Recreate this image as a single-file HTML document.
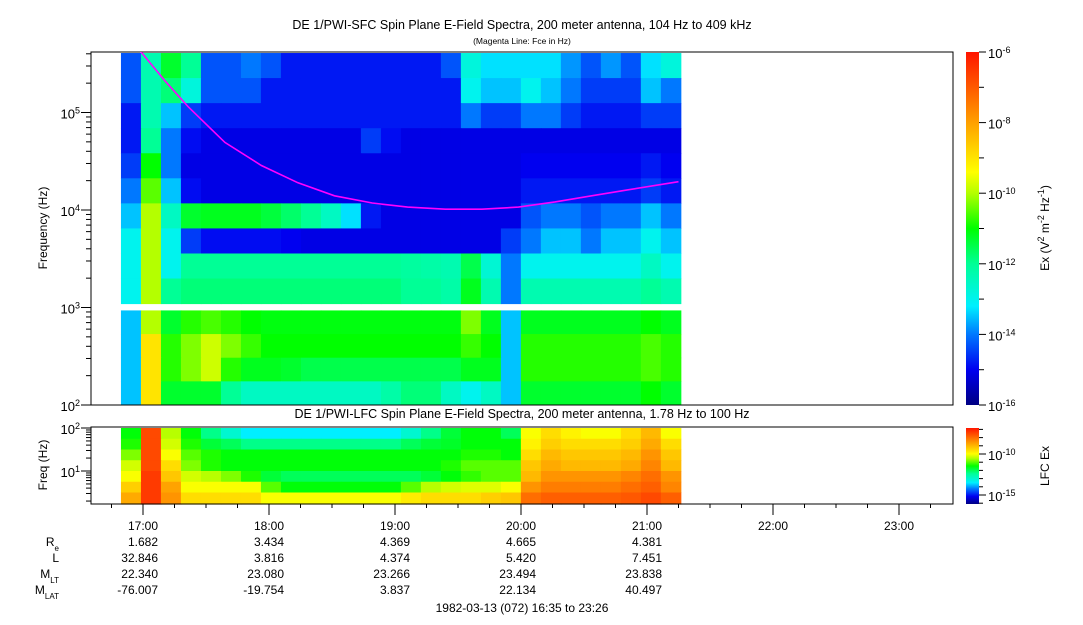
<!DOCTYPE html>
<html><head><meta charset="utf-8">
<style>
html,body{margin:0;padding:0;background:#fff;}
body{width:1083px;height:620px;overflow:hidden;font-family:"Liberation Sans",sans-serif;}
svg text{font-family:"Liberation Sans",sans-serif;fill:#000;}
</style></head>
<body>
<svg id="chart" width="1083" height="620" viewBox="0 0 1083 620" xmlns="http://www.w3.org/2000/svg">
<defs>
<linearGradient id="jet" x1="0" y1="1" x2="0" y2="0">
<stop offset="0" stop-color="rgb(0,0,130)"/><stop offset="0.1" stop-color="rgb(0,0,240)"/>
<stop offset="0.2" stop-color="rgb(0,120,255)"/><stop offset="0.28" stop-color="rgb(0,240,255)"/>
<stop offset="0.4" stop-color="rgb(0,255,150)"/><stop offset="0.5" stop-color="rgb(0,255,0)"/>
<stop offset="0.6" stop-color="rgb(180,255,0)"/><stop offset="0.66" stop-color="rgb(255,255,0)"/>
<stop offset="0.8" stop-color="rgb(255,160,0)"/><stop offset="1" stop-color="rgb(255,20,0)"/>
</linearGradient>
<clipPath id="clipTop"><rect x="91" y="52" width="862" height="353"/></clipPath>
</defs>
<text x="522" y="29" font-size="12.5" text-anchor="middle">DE 1/PWI-SFC  Spin Plane E-Field Spectra, 200 meter antenna, 104 Hz to 409 kHz</text>
<text x="522" y="44" font-size="8.5" text-anchor="middle">(Magenta Line: Fce in Hz)</text>
<text x="522" y="418" font-size="12.5" text-anchor="middle">DE 1/PWI-LFC  Spin Plane E-Field Spectra, 200 meter antenna, 1.78 Hz to 100 Hz</text>
<g id="sfc"></g>
<g id="lfc"></g>
<g id="axes"></g>
<rect x="91" y="52" width="862" height="353" fill="none" stroke="#000" stroke-width="1"/>
<rect x="91" y="427" width="862" height="77" fill="none" stroke="#000" stroke-width="1"/>
<rect x="966" y="52" width="13" height="353" fill="url(#jet)"/>
<rect x="966" y="428" width="13" height="76" fill="url(#jet)"/>
<text transform="translate(47,228) rotate(-90)" font-size="12" text-anchor="middle">Frequency (Hz)</text>
<text transform="translate(47,465) rotate(-90)" font-size="12" text-anchor="middle">Freq (Hz)</text>
<text transform="translate(1049,228) rotate(-90)" font-size="12" text-anchor="middle">Ex (V<tspan baseline-shift="super" font-size="9">2</tspan> m<tspan baseline-shift="super" font-size="9">-2</tspan> Hz<tspan baseline-shift="super" font-size="9">-1</tspan>)</text>
<text transform="translate(1049,466) rotate(-90)" font-size="12" text-anchor="middle">LFC Ex</text>
<text x="522" y="612" font-size="12" text-anchor="middle">1982-03-13 (072) 16:35 to 23:26</text>
</svg>
<script>
// ---- data ----
const colStart = 16.825, colStep = 0.1587; // hours, time categories
const sfcRowEdges = [5.61,5.353,5.096,4.839,4.582,4.325,4.068,3.811,3.554,3.297,3.04, 2.97,2.7275,2.485,2.2425,2.0];
const sfcRows = [
[-14.3,-12.3,-11.3,-12,-14.3,-14.3,-14,-14.3,-14.8,-14.8,-14.8,-14.8,-14.8,-14.8,-14.8,-14.8,-14.3,-12.8,-13.3,-13.3,-13.3,-13.3,-13.8,-14.3,-13.8,-14.3,-13.3,-12.8],
[-14.3,-12.3,-11.8,-12.8,-14.3,-14.3,-14.3,-14.8,-14.8,-14.8,-14.8,-14.8,-14.8,-14.8,-14.8,-14.8,-14.8,-13,-13.5,-13.5,-13,-13.5,-14,-14.5,-14.5,-14.5,-13.5,-14],
[-14.8,-12.3,-13.5,-14.5,-14.8,-14.8,-14.8,-14.8,-14.8,-14.8,-14.8,-14.8,-14.8,-14.8,-14.8,-14.8,-14.8,-14,-14.5,-14.5,-14,-14,-14.5,-14.8,-14.8,-14.8,-14.5,-14.5],
[-14.8,-12,-14,-14.9,-15.1,-15.1,-15.1,-15.1,-15.1,-15.1,-15.1,-15.1,-14.5,-14.9,-15.1,-15.1,-15.1,-15.1,-15.1,-15.1,-15.1,-15.1,-15.1,-15.1,-15.1,-15.1,-15.1,-15.1],
[-14.5,-11,-14,-15.1,-15.1,-15.1,-15.1,-15.1,-15.1,-15.1,-15.1,-15.1,-15.1,-15.1,-15.1,-15.1,-15.1,-15.1,-15.1,-15.1,-15,-15,-15,-15,-15,-15,-14.8,-15],
[-14,-10.5,-13.5,-14.9,-15.1,-15.1,-15.1,-15.1,-15.1,-15.1,-15.1,-15.1,-15.1,-15.1,-15.1,-15.1,-15.1,-15.1,-15.1,-15.1,-14.8,-14.8,-14.8,-14.8,-14.8,-14.8,-14.5,-14.8],
[-13.5,-10,-12.5,-11.3,-11.2,-11.2,-11.2,-11.4,-11.7,-12,-12.5,-13.3,-14.8,-15.1,-15.1,-15.1,-15.1,-15.1,-15.1,-15.1,-14.3,-14,-14,-14.3,-14,-14,-13.5,-14],
[-13,-10,-13,-14.5,-14.9,-14.9,-14.9,-14.9,-15,-15.1,-15.1,-15.1,-15.1,-15.1,-15.1,-15.1,-15.1,-15.1,-15.1,-14.5,-14,-13.5,-13.5,-14,-13.5,-13.5,-13,-13.5],
[-13,-10,-13,-12,-12,-12,-12,-12,-12,-12,-12,-12,-12,-12,-12.1,-12.2,-12.3,-11.5,-12.7,-14,-13,-13,-13,-13,-13,-13,-12.5,-13],
[-13,-10,-12,-11.8,-11.8,-11.8,-11.8,-11.8,-11.8,-11.8,-11.8,-11.8,-11.8,-11.8,-12,-12,-12.2,-11.2,-12.3,-14,-12.3,-12.3,-12.3,-12.3,-12.3,-12.3,-12,-12.3],
[-13.5,-10,-11.3,-10.8,-10.6,-10.8,-11,-11.1,-11.1,-11.1,-11.1,-11.1,-11.1,-11.1,-11.1,-11.1,-11.1,-10.3,-11.2,-13.5,-11.2,-11.2,-11.2,-11.2,-11.2,-11.2,-11,-11.2],
[-13.5,-9,-10.8,-10.3,-9.8,-10.3,-10.7,-11,-11,-11,-11,-11,-11,-11,-11,-11,-11,-10.7,-11,-13.5,-10.8,-10.8,-10.8,-10.8,-10.8,-10.8,-10.6,-10.8],
[-13.5,-9,-10.8,-10.3,-9.8,-10.8,-11.2,-11.2,-11.3,-11.5,-11.5,-11.5,-11.5,-11.5,-11.5,-11.5,-11.5,-11.2,-11.2,-13.5,-10.8,-10.8,-10.8,-10.8,-10.8,-10.8,-10.6,-10.8],
[-13.5,-9,-11.3,-11.3,-11.3,-12,-12.5,-12.5,-12.5,-12.5,-12.5,-12.5,-12.5,-12.2,-11.8,-11.8,-12.5,-13,-12.5,-13.5,-11.3,-11.3,-11.3,-11.3,-11.3,-11.3,-11,-11.3]
];
const lfcRowEdges = [2.0,1.75,1.5,1.25,1.0,0.75,0.5,0.23];
const lfcRows = [
[-11.5,-7.5,-10.5,-11.5,-12.3,-13,-13.5,-13.5,-13.5,-13.5,-13.5,-13.5,-13.5,-13.5,-13,-12.3,-11.8,-11.5,-11.5,-12,-10,-9.5,-9.8,-10,-10,-9.5,-9,-10],
[-11.3,-7.5,-10.3,-11.3,-11.8,-12,-12.3,-12.3,-12.3,-12.3,-12.3,-12.3,-12.3,-12.3,-12,-11.8,-11.7,-11.5,-11.5,-11.5,-9.8,-9.3,-9.5,-9.5,-9.5,-9.3,-8.8,-9.5],
[-10.8,-7.5,-10,-11,-11.3,-11.5,-11.5,-11.5,-11.5,-11.5,-11.5,-11.5,-11.5,-11.5,-11.5,-11.5,-11.5,-11.3,-11.3,-11.5,-9.5,-9,-9.2,-9.2,-9.2,-9,-8.5,-9.2],
[-10.3,-7.5,-9.5,-10.8,-11.3,-11.5,-11.5,-11.5,-11.5,-11.5,-11.5,-11.5,-11.5,-11.5,-11.5,-11.5,-11.3,-11,-11,-11,-9.2,-8.8,-9,-9,-9,-8.8,-8.3,-9],
[-10,-7.3,-9.2,-10.3,-10.5,-10.8,-11.3,-11.8,-12,-12,-12,-12,-12,-12,-12,-11.8,-11.5,-11.2,-11,-11,-9,-8.5,-8.5,-8.5,-8.5,-8.3,-8,-8.5],
[-9.3,-7.3,-8.7,-10,-10,-10,-10,-11,-11.5,-11.5,-11.5,-11.5,-11.5,-11.5,-11,-10.5,-10.3,-10.2,-10.2,-10,-8.5,-8.2,-8.2,-8.2,-8.2,-8,-7.8,-8.3],
[-8.8,-7.3,-8.5,-9.5,-9.5,-9.5,-9.5,-10,-10,-10,-10,-10,-10,-10,-9.7,-9.5,-9.5,-9.5,-9.3,-9.2,-8,-7.8,-7.8,-7.8,-7.8,-7.7,-7.5,-7.8]
];
const fceTimes = [16.96,17.18,17.36,17.65,17.94,18.23,18.52,18.82,19.10,19.40,19.69,19.98,20.27,20.56,20.85,21.25];
const fceHz = [455000,207000,114000,49400,28600,19000,14000,11800,10700,10200,10200,10700,12100,14000,16100,19500];
const hourLabels = ['17:00','18:00','19:00','20:00','21:00','22:00','23:00'];
const hourValues = [17,18,19,20,21,22,23];
const ephemRe = ['1.682','3.434','4.369','4.665','4.381'];
const ephemL = ['32.846','3.816','4.374','5.420','7.451'];
const ephemMLT = ['22.340','23.080','23.266','23.494','23.838'];
const ephemMLAT = ['-76.007','-19.754','3.837','22.134','40.497'];
const sfcDecades = [2,3,4,5];
const lfcDecades = [1,2];
const cbarExps = [-6,-8,-10,-12,-14,-16];
const lfcCbarExps = [-10,-15];

// ---- scales ----
const NS='http://www.w3.org/2000/svg';
const xT = t => 143 + (t-17)*126;
const ySfc = lg => 307.5 - (lg-3)*97.5;
const yLfc = lg => 471 - (lg-1)*43;
const stops=[[0,[0,0,130]],[0.1,[0,0,240]],[0.2,[0,120,255]],[0.28,[0,240,255]],[0.4,[0,255,150]],[0.5,[0,255,0]],[0.6,[180,255,0]],[0.66,[255,255,0]],[0.8,[255,160,0]],[1,[255,20,0]]];
function cmap(f){f=Math.max(0,Math.min(1,f));for(let i=1;i<stops.length;i++){if(f<=stops[i][0]){const a=stops[i-1],b=stops[i];const u=(f-a[0])/(b[0]-a[0]);const c=a[1].map((v,k)=>Math.round(v+(b[1][k]-v)*u));return `rgb(${c[0]},${c[1]},${c[2]})`;}}return 'rgb(255,20,0)';}
function mk(tag,attrs,parent){const e=document.createElementNS(NS,tag);for(const k in attrs)e.setAttribute(k,attrs[k]);parent.appendChild(e);return e;}

// SFC cells
const gS=document.getElementById('sfc');
sfcRows.forEach((row,r)=>{
  const lgTop=sfcRowEdges[r<10?r:r+1], lgBot=sfcRowEdges[r<10?r+1:r+2];
  row.forEach((v,c)=>{
    const x0=xT(colStart+c*colStep), x1=xT(colStart+(c+1)*colStep);
    const e=mk('rect',{x:x0.toFixed(2),y:ySfc(lgTop).toFixed(2),width:(x1-x0+0.5).toFixed(2),height:(ySfc(lgBot)-ySfc(lgTop)+0.5).toFixed(2),fill:cmap((v+16)/10)},gS);
    
    
  });
});
// LFC cells
const gL=document.getElementById('lfc');
lfcRows.forEach((row,r)=>{
  row.forEach((v,c)=>{
    const x0=xT(colStart+c*colStep), x1=xT(colStart+(c+1)*colStep);
    const y0=yLfc(lfcRowEdges[r]), y1=yLfc(lfcRowEdges[r+1]);
    const e=mk('rect',{x:x0.toFixed(2),y:y0.toFixed(2),width:(x1-x0+0.5).toFixed(2),height:(y1-y0+0.5).toFixed(2),fill:cmap((v+16.1)/9.3)},gL);
    
    
  });
});
// Fce line
const svg=document.getElementById('chart');
const pts=fceTimes.map((t,i)=>xT(t).toFixed(1)+','+ySfc(Math.log10(fceHz[i])).toFixed(1)).join(' ');
const fl=mk('polyline',{points:pts,fill:'none',stroke:'#ff00ff','stroke-width':1.6,'clip-path':'url(#clipTop)'},svg);



// axes
const gA=document.getElementById('axes');
function line(x1,y1,x2,y2,name){const e=mk('line',{x1,y1,x2,y2,stroke:'#000','stroke-width':1},gA);return e;}
function pow10Label(x,y,exp,name,anchor){const t=mk('text',{x,y,'font-size':13,'text-anchor':anchor||'end'},gA);t.innerHTML='10<tspan baseline-shift="super" font-size="9">'+exp+'</tspan>';return t;}
for(let d=2;d<=5;d++){for(let m=1;m<10;m++){const lg=d+Math.log10(m);if(lg>5.61)break;const y=ySfc(lg);line(m===1?81:86,y,91,y,m===1?'y-major-tick':'y-minor-tick');}}
sfcDecades.forEach(d=>pow10Label(80,ySfc(d)+6,d,'y-tick-label'));
for(let d=0;d<=2;d++){for(let m=1;m<10;m++){const lg=d+Math.log10(m);if(lg>2.001)break;if(lg<0.23)continue;const y=yLfc(lg);line(m===1?81:86,y,91,y,m===1?'lfc-y-major-tick':'lfc-y-minor-tick');}}
lfcDecades.forEach(d=>pow10Label(80,yLfc(d)+6,d,'lfc-y-tick-label'));
for(let k=0;k<=26;k++){const t=16.75+k*0.25;const x=xT(t);if(x>953)break;const major=Math.abs(t-Math.round(t))<0.01;line(x,504,x,major?515:508,major?'x-major-tick':'x-minor-tick');}
function txt(x,y,s,name,anchor){const t=mk('text',{x,y,'font-size':12,'text-anchor':anchor||'middle'},gA);t.innerHTML=s;return t;}
hourValues.forEach((h,i)=>txt(xT(h),530,hourLabels[i],'x-tick-label'));
const ephem=[ephemRe,ephemL,ephemMLT,ephemMLAT];
ephem.forEach((arr,r)=>arr.forEach((s,i)=>txt(xT(hourValues[i])+15,546+r*16,s,'ephemeris-value','end')));
txt(59,546,'R<tspan font-size="8" baseline-shift="sub">e</tspan>','ephemeris-label-re','end');
txt(59,562,'L','ephemeris-label-l','end');
txt(59,578,'M<tspan font-size="8" baseline-shift="sub">LT</tspan>','ephemeris-label-mlt','end');
txt(59,594,'M<tspan font-size="8" baseline-shift="sub">LAT</tspan>','ephemeris-label-mlat','end');
const yCb=e=>52+(-6-e)*35.3;
for(let e=-6;e>=-16;e--){line(979,yCb(e),e%2===0?986:984,yCb(e),'colorbar-tick');}
cbarExps.forEach(e=>pow10Label(988,yCb(e)+6,e,'colorbar-tick-label','start'));
const yCb2=e=>454+(-10-e)*8.2;
for(let e=-7;e>=-16;e--){line(979,yCb2(e),(e===-10||e===-15)?986:983,yCb2(e),'lfc-colorbar-tick');}
lfcCbarExps.forEach(e=>pow10Label(988,yCb2(e)+6,e,'lfc-colorbar-tick-label','start'));
</script>
</body></html>
